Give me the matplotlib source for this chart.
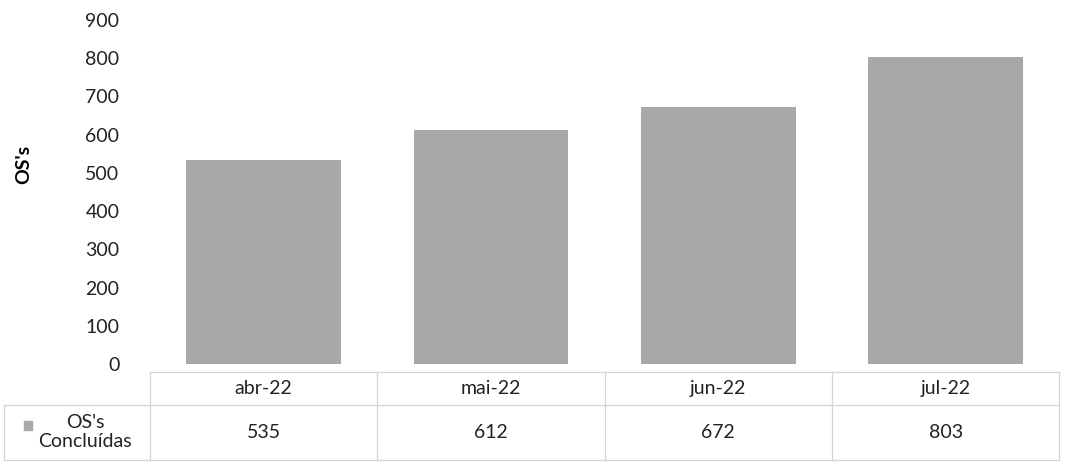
import matplotlib.pyplot as plt
import matplotlib.patches as mpatches

plt.rcParams['font.family'] = ['Lato', 'DejaVu Sans']
plt.rcParams['font.size'] = 14

meses = ['abr-22', 'mai-22', 'jun-22', 'jul-22']
concluidas = [535, 612, 672, 803]
serie = "OS's\nConcluídas"

cor_barra = '#a8a8a8'
cor_linha = '#d4d4d4'
cor_texto = '#222222'

fig = plt.figure(figsize=(10.66, 4.66), dpi=100)
ax = fig.add_axes([0.1407, 0.219, 0.853, 0.738])

x = list(range(len(meses)))
ax.bar(x, concluidas, width=0.68, color=cor_barra)
ax.set_xlim(-0.5, len(meses) - 0.5)
ax.set_ylim(0, 900)
ax.set_yticks(range(0, 1000, 100))
ax.set_xticks([])
ax.tick_params(axis='y', length=0, pad=22, colors=cor_texto)
for s in ax.spines.values():
    s.set_visible(False)
ax.set_ylabel("OS's", fontweight='bold')
ax.yaxis.set_label_coords(-0.13, 0.58)

# tabela de dados: x em unidades das categorias, y em fracao do eixo
tr = ax.get_xaxis_transform()
y_topo, y_meio, y_base = -0.023, -0.119, -0.279
x_ini, x_fim = -0.5, len(meses) - 0.5
x_rot = x_ini - 146 / 227.5   # borda esquerda da coluna do rotulo
linha = dict(color=cor_linha, lw=0.9, transform=tr, clip_on=False)

ax.plot([x_ini, x_fim], [y_topo, y_topo], **linha)
ax.plot([x_rot, x_fim], [y_meio, y_meio], **linha)
ax.plot([x_rot, x_fim], [y_base, y_base], **linha)
ax.plot([x_rot, x_rot], [y_meio, y_base], **linha)
for i in range(len(meses) + 1):
    ax.plot([i - 0.5, i - 0.5], [y_topo, y_base], **linha)

for i, (m, v) in enumerate(zip(meses, concluidas)):
    ax.text(i, (y_topo + y_meio) / 2, m, transform=tr, ha='center', va='center',
            color=cor_texto)
    ax.text(i, (y_meio + y_base) / 2, str(v), transform=tr, ha='center',
            va='center', color=cor_texto)
ax.text(x_ini - 65 / 227.5, (y_meio + y_base) / 2, serie, transform=tr,
        ha='center', va='center', color=cor_texto, linespacing=1.15)

# marcador da legenda na celula da serie
fig.patches.append(mpatches.Rectangle((24 / 1066, 36 / 466), 8 / 1066, 9 / 466,
                                      transform=fig.transFigure, color=cor_barra))

fig.savefig('out.png', dpi=100)
